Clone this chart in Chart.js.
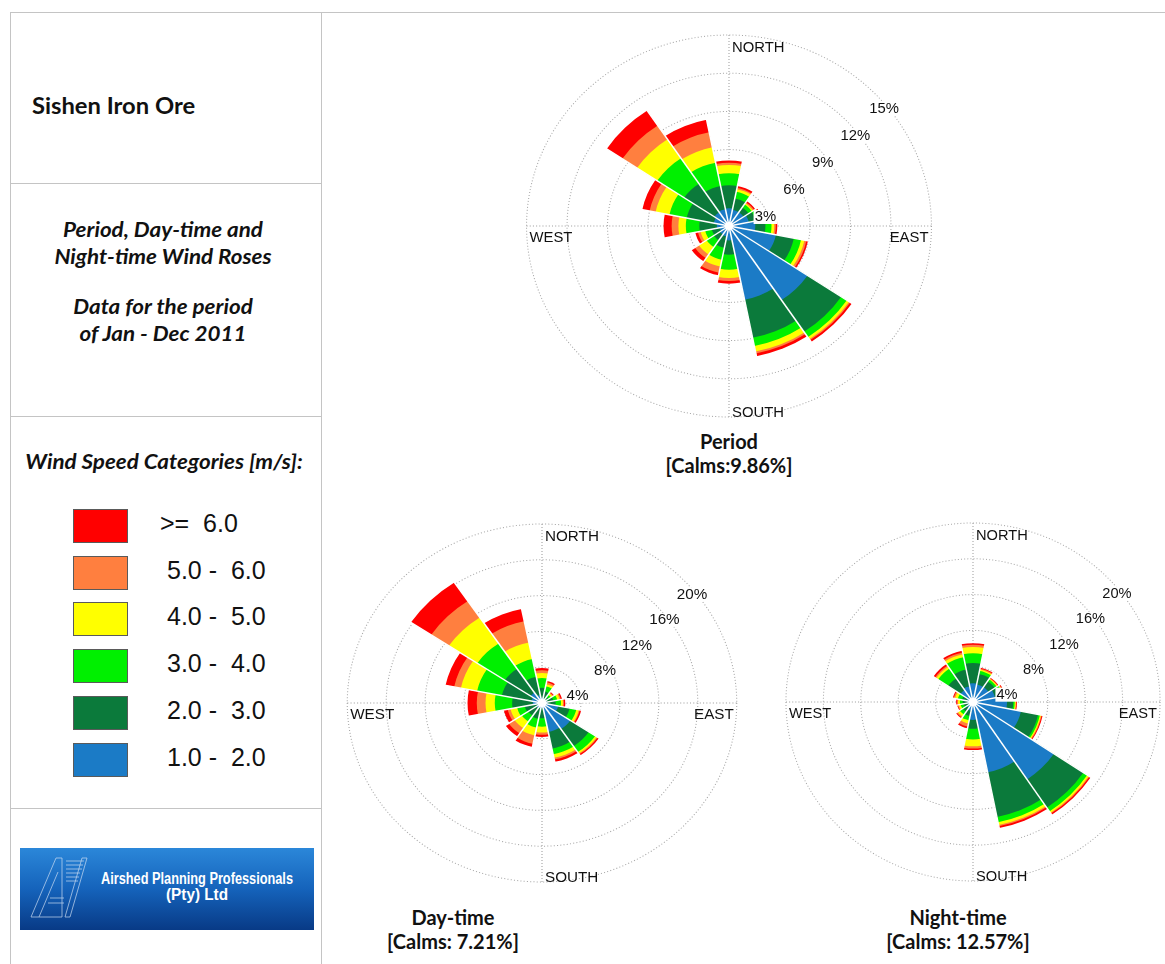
<!DOCTYPE html>
<html>
<head>
<meta charset="utf-8">
<title>Sishen Iron Ore - Wind Roses</title>
<script src="https://cdn.jsdelivr.net/npm/chart.js@4/dist/chart.umd.min.js"></script>
<style>
  html, body { margin: 0; padding: 0; background: #fff; }
  body { width: 1165px; height: 964px; position: relative; overflow: hidden; font-family: Lato, "Open Sans", sans-serif; color: #111; }
  .rule { position: absolute; background: #c4c4c4; }
  .txt { position: absolute; white-space: nowrap; }
  .panel { left: 7px; width: 312px; text-align: center; font-weight: bold; font-style: italic; font-size: 20px; line-height: 27px; transform: scaleX(1.12); }
  .swatch { position: absolute; left: 73px; width: 53px; height: 32px; border: 1px solid #5a5a5a; }
  .speed { position: absolute; left: 160px; height: 34px; line-height: 34px; font: 25px "Liberation Sans", Arial, sans-serif; white-space: pre; }
  .caption { position: absolute; width: 240px; text-align: center; font-weight: bold; font-size: 20px; line-height: 24px; }
  canvas.rose { position: absolute; }
</style>
</head>
<body>

<!-- frame -->
<div class="rule" style="left:10px; top:12px; width:1155px; height:1px;"></div>
<div class="rule" style="left:10px; top:12px; width:1px; height:952px;"></div>
<div class="rule" style="left:321px; top:12px; width:1px; height:952px;"></div>
<div class="rule" style="left:10px; top:183px; width:312px; height:1px;"></div>
<div class="rule" style="left:10px; top:416px; width:312px; height:1px;"></div>
<div class="rule" style="left:10px; top:808px; width:312px; height:1px;"></div>

<!-- left panel -->
<div class="txt" style="left:32px; top:92px; font-weight:bold; font-size:22px; transform:scaleX(1.08); transform-origin:left center;">Sishen Iron Ore</div>
<div class="txt panel" style="top:216px;">Period, Day-time and</div>
<div class="txt panel" style="top:243px;">Night-time Wind Roses</div>
<div class="txt panel" style="top:293px;">Data for the period</div>
<div class="txt panel" style="top:320px;">of Jan - Dec 2011</div>
<div class="txt panel" style="top:448px; left:8px;">Wind Speed Categories [m/s]:</div>

<div class="swatch" style="top:509px; background:#ff0000;"></div>
<div class="swatch" style="top:556px; background:#ff7f3f;"></div>
<div class="swatch" style="top:602px; background:#ffff00;"></div>
<div class="swatch" style="top:649px; background:#00f000;"></div>
<div class="swatch" style="top:696px; background:#0b7a3b;"></div>
<div class="swatch" style="top:743px; background:#1b7bc6;"></div>
<div class="speed" style="top:509px;">&gt;=  6.0</div>
<div class="speed" style="top:556px; left:167px;">5.0 -  6.0</div>
<div class="speed" style="top:602px; left:167px;">4.0 -  5.0</div>
<div class="speed" style="top:649px; left:167px;">3.0 -  4.0</div>
<div class="speed" style="top:696px; left:167px;">2.0 -  3.0</div>
<div class="speed" style="top:743px; left:167px;">1.0 -  2.0</div>

<svg style="position:absolute; left:20px; top:848px;" width="294" height="82" viewBox="0 0 294 82">
  <defs>
    <linearGradient id="logoFill" x1="0" y1="0" x2="0" y2="1">
      <stop offset="0" stop-color="#2b87d9"/>
      <stop offset="0.5" stop-color="#1563bb"/>
      <stop offset="1" stop-color="#083a86"/>
    </linearGradient>
  </defs>
  <rect width="294" height="82" fill="url(#logoFill)"/>
  <g fill="none" stroke="#cfe0f4" stroke-width="0.8" opacity="0.85">
    <path d="M11 69 L36 10 L42 10 L42 69 Z"/>
    <path d="M19 69 L38 24"/>
    <path d="M45 69 L50 69 L67 10 L62 10 Z"/>
    <path d="M46 13 H64 M46 17 H63 M46 21 H62 M46 25 H60 M46 29 H59 M46 33 H58 M30 50 H44 M28 55 H44"/>
  </g>
  <g fill="#fff" font-family="'Liberation Sans', Arial, sans-serif" font-weight="bold" text-anchor="middle">
    <text x="177" y="36" font-size="16" textLength="192" lengthAdjust="spacingAndGlyphs">Airshed Planning Professionals</text>
    <text x="177" y="52" font-size="16" textLength="62" lengthAdjust="spacingAndGlyphs">(Pty) Ltd</text>
  </g>
</svg>

<!-- roses -->
<canvas id="rosePeriod" class="rose" width="460" height="402" style="left:499px; top:25px;"></canvas>
<canvas id="roseDay" class="rose" width="420" height="378" style="left:332px; top:514px;"></canvas>
<canvas id="roseNight" class="rose" width="420" height="378" style="left:763px; top:513px;"></canvas>

<div class="caption" style="left:609px; top:429px;">Period<br>[Calms:9.86%]</div>
<div class="caption" style="left:333px; top:905px;">Day-time<br>[Calms: 7.21%]</div>
<div class="caption" style="left:838px; top:905px;">Night-time<br>[Calms: 12.57%]</div>

<script>
// 16 compass sectors, clockwise from north
const directions = ['N', 'NNE', 'NE', 'ENE', 'E', 'ESE', 'SE', 'SSE', 'S', 'SSW', 'SW', 'WSW', 'W', 'WNW', 'NW', 'NNW'];
const speedClasses = ['1.0 - 2.0', '2.0 - 3.0', '3.0 - 4.0', '4.0 - 5.0', '5.0 - 6.0', '>= 6.0'];
const classColours = ['#1b7bc6', '#0b7a3b', '#00f000', '#ffff00', '#ff7f3f', '#ff0000'];
const compassLabels = ['NORTH', 'EAST', 'SOUTH', 'WEST'];

// frequency of occurrence (%) per sector and speed class - whole period
const period1to2 = [1.40, 1.30, 1.30, 1.50, 1.95, 3.55, 7.00, 5.90, 1.13, 0.85, 0.80, 0.70, 0.90, 1.15, 1.30, 1.35];
const period2to3 = [1.80, 0.90, 0.45, 0.50, 0.75, 1.35, 3.00, 3.05, 1.12, 0.90, 0.55, 0.60, 1.30, 2.05, 2.70, 1.85];
const period3to4 = [0.95, 0.55, 0.30, 0.25, 0.45, 0.55, 0.50, 0.65, 1.18, 0.95, 0.65, 0.50, 1.00, 1.30, 2.40, 1.87];
const period4to5 = [0.65, 0.20, 0.10, 0.10, 0.20, 0.25, 0.20, 0.45, 0.65, 0.55, 0.70, 0.35, 0.55, 1.05, 1.80, 1.23];
const period5to6 = [0.17, 0.11, 0.10, 0.07, 0.12, 0.15, 0.10, 0.15, 0.24, 0.50, 0.35, 0.20, 0.50, 0.45, 1.30, 1.20];
const period6up  = [0.18, 0.14, 0.10, 0.08, 0.11, 0.12, 0.15, 0.22, 0.21, 0.20, 0.30, 0.20, 0.60, 0.55, 1.40, 1.00];

// day-time hours
const day1to2 = [0.60, 0.50, 0.40, 0.50, 0.60, 1.70, 3.50, 3.30, 0.55, 0.60, 0.70, 0.50, 0.95, 1.10, 1.40, 0.90];
const day2to3 = [1.10, 0.80, 0.40, 0.70, 0.80, 1.20, 2.30, 1.90, 1.15, 1.20, 1.00, 1.30, 2.12, 3.10, 3.20, 2.10];
const day3to4 = [1.10, 0.60, 0.30, 0.40, 0.55, 0.70, 0.80, 0.65, 0.95, 1.00, 0.80, 0.80, 1.78, 2.60, 3.40, 2.00];
const day4to5 = [0.55, 0.25, 0.20, 0.25, 0.20, 0.25, 0.20, 0.40, 0.65, 0.90, 0.90, 0.70, 0.95, 1.70, 3.50, 1.90];
const day5to6 = [0.30, 0.20, 0.12, 0.13, 0.10, 0.10, 0.10, 0.20, 0.25, 0.95, 0.70, 0.30, 0.90, 0.70, 2.20, 2.40];
const day6up  = [0.25, 0.15, 0.08, 0.12, 0.15, 0.15, 0.15, 0.25, 0.25, 0.35, 0.40, 0.40, 0.95, 0.90, 2.50, 1.40];

// night-time hours
const night1to2 = [2.10, 2.00, 2.00, 2.40, 3.64, 5.23, 10.40, 8.00, 2.00, 1.00, 0.80, 0.60, 0.60, 0.70, 1.60, 1.80];
const night2to3 = [2.25, 1.20, 0.80, 0.60, 0.66, 1.87, 3.80, 5.10, 1.00, 0.60, 0.50, 0.40, 0.50, 0.50, 1.60, 1.90];
const night3to4 = [1.10, 0.35, 0.25, 0.25, 0.16, 0.20, 0.50, 0.60, 1.20, 0.50, 0.40, 0.35, 0.30, 0.45, 1.30, 1.40];
const night4to5 = [0.70, 0.15, 0.10, 0.10, 0.11, 0.12, 0.20, 0.30, 0.75, 0.35, 0.25, 0.20, 0.20, 0.30, 0.25, 0.35];
const night5to6 = [0.25, 0.10, 0.07, 0.07, 0.07, 0.08, 0.10, 0.15, 0.25, 0.35, 0.15, 0.10, 0.10, 0.15, 0.15, 0.20];
const night6up  = [0.17, 0.10, 0.08, 0.08, 0.07, 0.10, 0.15, 0.20, 0.17, 0.20, 0.10, 0.07, 0.10, 0.10, 0.20, 0.20];

// ring values (%) for each rose
const periodTicks = [3, 6, 9, 12, 15];
const dayTicks = [4, 8, 12, 16, 20];
const nightTicks = [4, 8, 12, 16, 20];

// running totals, so each speed class sits on top of the slower ones
function stackRings(classes) {
  let running = directions.map(() => 0);
  return classes.map(vals => {
    running = running.map((s, i) => s + vals[i]);
    return running.slice();
  });
}

// dotted axes, sector gaps, hub and the text around each rose
function roseDecor(ticks, stretch) {
  return {
    id: 'roseDecor',
    beforeDraw(chart) {
      const ctx = chart.ctx, r = chart.scales.r;
      ctx.save();
      ctx.translate(r.xCenter, 0);
      ctx.scale(stretch, 1);
      ctx.translate(-r.xCenter, 0);
    },
    beforeDatasetsDraw(chart) {
      const ctx = chart.ctx, r = chart.scales.r;
      const cx = r.xCenter, cy = r.yCenter, R = r.drawingArea;
      ctx.save();
      ctx.strokeStyle = '#a0a0a0';
      ctx.lineWidth = 1;
      ctx.setLineDash([1, 2]);
      ctx.beginPath();
      ctx.moveTo(cx, cy - R); ctx.lineTo(cx, cy + R);
      ctx.moveTo(cx - R, cy); ctx.lineTo(cx + R, cy);
      ctx.stroke();
      ctx.restore();
    },
    afterDatasetsDraw(chart) {
      const ctx = chart.ctx, r = chart.scales.r;
      const cx = r.xCenter, cy = r.yCenter, R = r.drawingArea;
      const outer = chart.getDatasetMeta(chart.data.datasets.length - 1).data;
      ctx.save();

      ctx.strokeStyle = '#fff';
      ctx.lineWidth = 1.4;
      outer.forEach((arc, i) => {
        const prev = outer[(i + outer.length - 1) % outer.length];
        const len = Math.max(arc.outerRadius, prev.outerRadius) + 1;
        ctx.beginPath();
        ctx.moveTo(cx, cy);
        ctx.lineTo(cx + len * Math.cos(arc.startAngle), cy + len * Math.sin(arc.startAngle));
        ctx.stroke();
      });

      ctx.fillStyle = '#fff';
      ctx.beginPath();
      ctx.arc(cx, cy, 4, 0, Math.PI * 2);
      ctx.fill();

      ctx.font = '14px "Liberation Sans", Arial, sans-serif';
      ctx.textBaseline = 'alphabetic';
      ctx.textAlign = 'left';
      ticks.forEach(t => {
        const d = r.getDistanceFromCenterForValue(t) * Math.SQRT1_2;
        const x = cx + d - 3 / stretch, y = cy - d + 22.5;
        const label = t + '%';
        const w = ctx.measureText(label).width;
        ctx.fillStyle = '#fff';
        ctx.fillRect(x - 1, y - 11.5, w + 2, 14);
        ctx.fillStyle = '#111';
        ctx.fillText(label, x, y);
      });

      ctx.fillStyle = '#111';
      ctx.fillText(compassLabels[0], cx + 3 / stretch, cy - R + 16.5);
      ctx.fillText(compassLabels[2], cx + 3 / stretch, cy + R - 0.5);
      ctx.fillText(compassLabels[3], cx - R + 3 / stretch, cy + 16);
      ctx.textAlign = 'right';
      ctx.fillText(compassLabels[1], cx + R - 3 / stretch, cy + 16);
      ctx.restore();
    },
    afterDraw(chart) {
      chart.ctx.restore();
    }
  };
}

function drawRose(canvasId, classes, ticks, stretch) {
  const rings = stackRings(classes);
  return new Chart(document.getElementById(canvasId), {
    type: 'polarArea',
    data: {
      labels: directions,
      datasets: rings.map((vals, k) => ({
        label: speedClasses[k],
        data: vals,
        backgroundColor: classColours[k],
        borderWidth: 0,
        clip: false
      }))
    },
    options: {
      responsive: false,
      animation: false,
      events: [],
      layout: { padding: 10 },
      plugins: {
        legend: { display: false },
        tooltip: { enabled: false }
      },
      scales: {
        r: {
          min: 0,
          max: ticks[ticks.length - 1],
          startAngle: -11.25,
          ticks: { display: false, stepSize: ticks[1] - ticks[0] },
          grid: { color: '#a8a8a8', lineWidth: 1, circular: true },
          border: { dash: [1, 2] },
          angleLines: { display: false },
          pointLabels: { display: false }
        }
      }
    },
    plugins: [roseDecor(ticks, stretch)]
  });
}

drawRose('rosePeriod', [period1to2, period2to3, period3to4, period4to5, period5to6, period6up], periodTicks, 1.06);
drawRose('roseDay', [day1to2, day2to3, day3to4, day4to5, day5to6, day6up], dayTicks, 1.088);
drawRose('roseNight', [night1to2, night2to3, night3to4, night4to5, night5to6, night6up], nightTicks, 1.045);
</script>
</body>
</html>
